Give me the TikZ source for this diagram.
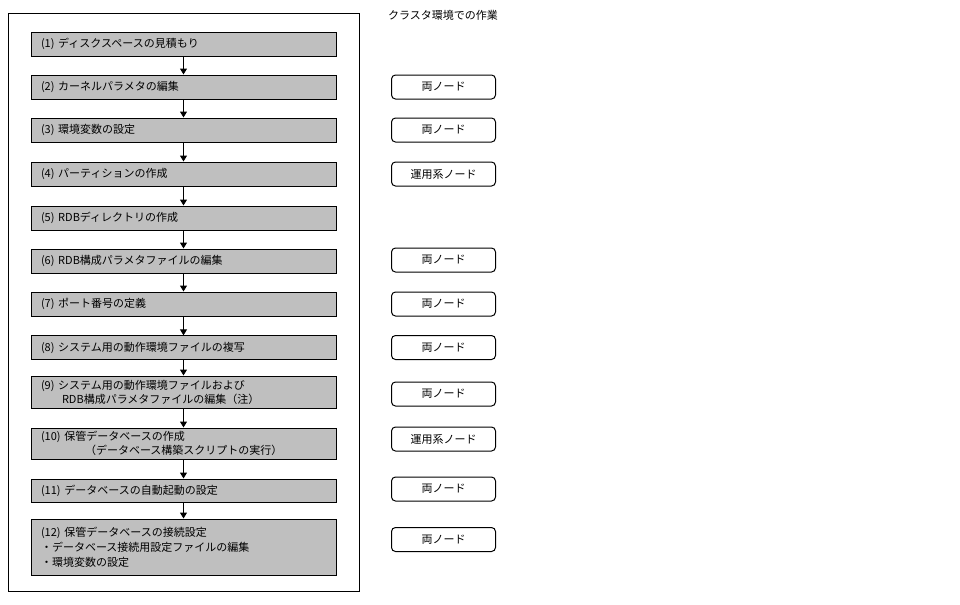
\documentclass[tikz,border=0pt]{standalone}
\usepackage{fontspec}
\setmainfont{Noto Sans CJK JP}
\usetikzlibrary{arrows.meta}
\tikzset{
  stepbox/.style={draw=black, fill=black!25, line width=0.75pt, minimum width=228.75pt,
    text width=213.75pt, inner xsep=7.5pt, inner ysep=0pt, align=left, anchor=center,
    font=\fontsize{8.25}{10.5}\selectfont},
  nodebox/.style={draw=black, rounded corners=3pt, line width=0.75pt, minimum width=78pt,
    minimum height=18pt, inner sep=0pt, font=\fontsize{8.25}{10}\selectfont},
  arr/.style={line width=0.75pt, -{Triangle[width=5.25pt,length=4.5pt]}},
}
\begin{document}
\begin{tikzpicture}[x=0.75pt, y=-0.75pt]
\useasboundingbox (0,0) rectangle (960,604);
\draw[line width=0.75pt] (8,13) rectangle (359,591);
\node[font=\fontsize{8.25}{10}\selectfont] (hdr) at (443,15) {クラスタ環境での作業};

\node[stepbox, minimum height=18pt] (b1) at (183.5,44) {(1) ディスクスペースの見積もり};
\node[stepbox, minimum height=18pt] (b2) at (183.5,87) {(2) カーネルパラメタの編集};
\node[stepbox, minimum height=18pt] (b3) at (183.5,130) {(3) 環境変数の設定};
\node[stepbox, minimum height=18pt] (b4) at (183.5,174) {(4) パーティションの作成};
\node[stepbox, minimum height=18pt] (b5) at (183.5,218) {(5) RDBディレクトリの作成};
\node[stepbox, minimum height=18pt] (b6) at (183.5,261) {(6) RDB構成パラメタファイルの編集};
\node[stepbox, minimum height=18pt] (b7) at (183.5,304) {(7) ポート番号の定義};
\node[stepbox, minimum height=17.5pt] (b8) at (183.5,347.5) {(8) システム用の動作環境ファイルの複写};
\node[stepbox, minimum height=24pt] (b9) at (183.5,392) {(9) システム用の動作環境ファイルおよび\\\hspace*{15.75pt}RDB構成パラメタファイルの編集（注）};
\node[stepbox, minimum height=23.25pt] (b10) at (183.5,443.5) {(10) 保管データベースの作成\\\hspace*{33pt}（データベース構築スクリプトの実行）};
\node[stepbox, minimum height=17.25pt] (b11) at (183.5,490.5) {(11) データベースの自動起動の設定};
\node[stepbox, minimum height=42pt, font=\fontsize{8.25}{11.25}\selectfont] (b12) at (183.5,547) {(12) 保管データベースの接続設定\\・データベース接続用設定ファイルの編集\\・環境変数の設定};

\draw[arr] (b1.south) -- (b2.north);
\draw[arr] (b2.south) -- (b3.north);
\draw[arr] (b3.south) -- (b4.north);
\draw[arr] (b4.south) -- (b5.north);
\draw[arr] (b5.south) -- (b6.north);
\draw[arr] (b6.south) -- (b7.north);
\draw[arr] (b7.south) -- (b8.north);
\draw[arr] (b8.south) -- (b9.north);
\draw[arr] (b9.south) -- (b10.north);
\draw[arr] (b10.south) -- (b11.north);
\draw[arr] (b11.south) -- (b12.north);

\node[nodebox] (n2) at (443.5,87) {両ノード};
\node[nodebox] (n3) at (443.5,130) {両ノード};
\node[nodebox] (n4) at (443.5,174) {運用系ノード};
\node[nodebox] (n6) at (443.5,260) {両ノード};
\node[nodebox] (n7) at (443.5,304) {両ノード};
\node[nodebox] (n8) at (443.5,347.5) {両ノード};
\node[nodebox] (n9) at (443.5,394) {両ノード};
\node[nodebox] (n10) at (443.5,439) {運用系ノード};
\node[nodebox] (n11) at (443.5,489) {両ノード};
\node[nodebox] (n12) at (443.5,539.5) {両ノード};
\end{tikzpicture}
\end{document}
